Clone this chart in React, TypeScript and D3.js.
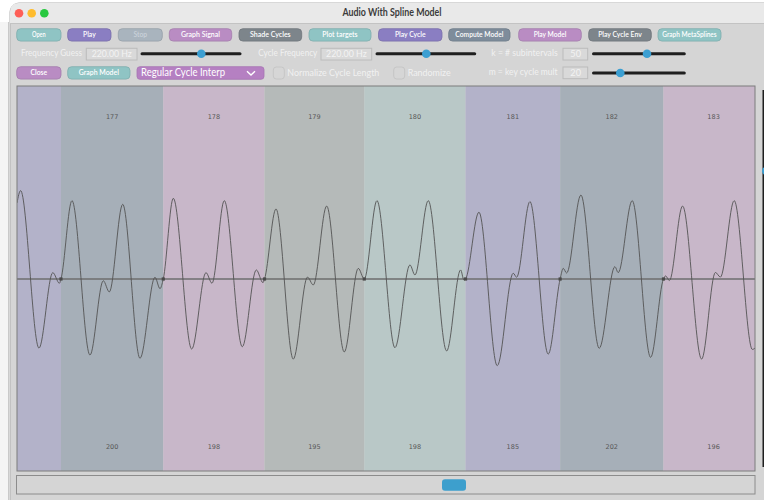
import React from 'react';
import * as d3 from 'd3';

// ---------- data ----------
const cycleIds = [176, 177, 178, 179, 180, 181, 182, 183];
const cycleStarts = [86, 286, 484, 679, 877, 1062, 1264]; // sample index where cycles 177..183 begin
const cycleLengths = [200, 198, 195, 198, 185, 202, 196]; // lengths (samples) shown at bottom
const sampleDomain = [0, 1443];
const waveT = [
  0, 7, 43, 70, 83, 86,
  107.5, 142.7, 168.7, 180.5, 206.7, 240.5, 269.8, 279.6, 286,
  305.6, 341.6, 369.5, 381.3, 405.3, 440.5, 467.9, 481, 484,
  506.4, 540.2, 568, 579.3, 605.5, 639.9, 667.3, 679,
  703.8, 739, 768.3, 778.1, 804.1, 840.1, 867.4, 873.9, 877,
  903.2, 939, 970.3, 976.9, 1002.9, 1038.7, 1062,
  1068, 1074.7, 1102.6, 1138.4, 1169.1, 1175.5, 1202.9, 1238.9, 1264,
  1268.2, 1275.6, 1301.4, 1338.6, 1365.6, 1375.4, 1402.3, 1437.9, 1443,
];
const waveA = [
  0.394, 0.458, -0.358, 0.033, -0.022, 0,
  0.406, -0.394, -0.009, -0.067, 0.387, -0.411, 0.009, -0.05, 0,
  0.418, -0.363, 0.033, -0.022, 0.406, -0.351, 0.047, -0.019, 0,
  0.363, -0.415, 0.01, -0.031, 0.378, -0.378, 0.055, 0,
  0.406, -0.356, 0.073, 0.021, 0.406, -0.373, 0.047, -0.005, 0,
  0.346, -0.449, 0.03, 0.009, 0.401, -0.389, 0,
  0.055, 0.031, 0.435, -0.359, 0.064, 0.033, 0.406, -0.406, 0,
  0.016, -0.008, 0.378, -0.415, 0.034, 0.01, 0.406, -0.365, -0.358,
];
const cycleColors = ['#b9c8c7', '#b3b2c9', '#a6afb8', '#c8b7c9', '#b5bab9']; // by id % 5

// ---------- UI chrome ----------
const TEAL = '#8fc4c4', PURPLE = '#8a7ec2', DIS = '#a9b4be', PINK = '#b98cc3', DGRAY = '#7d858b', SLATE = '#7e8c9b';
const row1 = [
  { t: 'Open', x0: 16.7, x1: 61, c: TEAL, w: 13.7 },
  { t: 'Play', x0: 67.7, x1: 111, c: PURPLE, w: 12.7 },
  { t: 'Stop', x0: 118.3, x1: 162.3, c: DIS, w: 13.7, dis: true },
  { t: 'Graph Signal', x0: 169.3, x1: 231.7, c: PINK, w: 39 },
  { t: 'Shade Cycles', x0: 239, x1: 301.7, c: DGRAY, w: 40.7 },
  { t: 'Plot targets', x0: 309, x1: 371, c: TEAL, w: 35.3 },
  { t: 'Play Cycle', x0: 378.5, x1: 442, c: PURPLE, w: 30.7 },
  { t: 'Compute Model', x0: 448.7, x1: 510, c: SLATE, w: 48 },
  { t: 'Play Model', x0: 518.7, x1: 581.3, c: PINK, w: 32.7 },
  { t: 'Play Cycle Env', x0: 588.7, x1: 651.3, c: DGRAY, w: 43.7 },
  { t: 'Graph MetaSplines', x0: 658, x1: 721, c: TEAL, w: 54.3 },
];
const row3 = [
  { t: 'Close', x0: 16.7, x1: 61, c: PINK, w: 16.7 },
  { t: 'Graph Model', x0: 67.7, x1: 130, c: TEAL, w: 40 },
];

const FONT = 'Lato, "Noto Sans", sans-serif';

function Button({ b, y0 }: any) {
  const h = 12.4;
  return (
    <g>
      <rect x={b.x0} y={y0} width={b.x1 - b.x0} height={h} rx={4} fill={b.c}
        stroke={d3.color(b.c)!.darker(0.35).toString()} strokeWidth={0.8} />
      <text x={(b.x0 + b.x1) / 2} y={y0 + h / 2 + 0.5} textAnchor="middle" dominantBaseline="middle"
        fontSize={8} fontWeight={600} fill={b.dis ? '#c9d2da' : '#ffffff'} fontFamily={FONT}
        textLength={b.w} lengthAdjust="spacingAndGlyphs">{b.t}</text>
    </g>
  );
}

function Label({ x, y, t, w }: any) {
  return (
    <text x={x} y={y} dominantBaseline="middle" fontSize={8.8} fill="#f1f1f1" fontFamily={FONT}
      textLength={w} lengthAdjust="spacingAndGlyphs">{t}</text>
  );
}

function Field({ x0, x1, y0, y1, t, tx, tw }: any) {
  return (
    <g>
      <rect x={x0} y={y0} width={x1 - x0} height={y1 - y0} fill="#d9d9d9" stroke="#bcbcbc" strokeWidth={1} />
      <text x={tx} y={(y0 + y1) / 2 + 0.5} dominantBaseline="middle" fontSize={10} fill="#f3f3f3"
        fontFamily={FONT} textLength={tw} lengthAdjust="spacingAndGlyphs">{t}</text>
    </g>
  );
}

function Slider({ x0, x1, y, tx }: any) {
  return (
    <g>
      <line x1={x0} x2={x1} y1={y} y2={y} stroke="#1f1f1f" strokeWidth={3} strokeLinecap="round" />
      <circle cx={tx} cy={y} r={4.3} fill="#3c9fd2" />
    </g>
  );
}

function Check({ x, y, t, w }: any) {
  return (
    <g>
      <rect x={x} y={y} width={11} height={12} rx={3} fill="#d6d6d6" stroke="#c6c6c6" strokeWidth={1} />
      <text x={x + 14} y={y + 6.5} dominantBaseline="middle" fontSize={9.5} fill="#f1f1f1"
        fontFamily={FONT} textLength={w} lengthAdjust="spacingAndGlyphs">{t}</text>
    </g>
  );
}

export default function App() {
  const W = 764, H = 500;
  const PL = 17, PR = 755, PT = 86, PB = 471;
  const x = d3.scaleLinear().domain(sampleDomain).range([PL, PR]);
  const y = d3.scaleLinear().domain([-1, 1]).range([472, 86]);

  const edges = [sampleDomain[0], ...cycleStarts, sampleDomain[1]];
  const bands = cycleIds.map((id, i) => ({ id, s0: edges[i], s1: edges[i + 1] }));
  const labels = cycleStarts.map((s, i) => ({ id: cycleIds[i + 1], c: s + cycleLengths[i] / 2, len: cycleLengths[i] }));
  const pts = waveT.map((t, i) => [t, waveA[i]] as [number, number]);
  const line = d3.line<[number, number]>().x(d => x(d[0])).y(d => y(d[1])).curve(d3.curveMonotoneX);

  return (
    <svg width={W} height={H} style={{ position: 'fixed', left: 0, top: 0 }} xmlns="http://www.w3.org/2000/svg">
      <defs>
        <clipPath id="plotClip"><rect x={PL} y={PT} width={PR - PL} height={PB - PT} /></clipPath>
      </defs>
      <rect x={0} y={0} width={W} height={H} fill="#ffffff" />
      {/* back window strip */}
      <rect x={0} y={22} width={9} height={H - 22} fill="#f4f4f4" />
      <line x1={8.5} x2={8.5} y1={22} y2={H} stroke="#c9c9c9" />
      {/* window */}
      <rect x={10} y={3} width={W + 10} height={H + 10} rx={9} fill="#d5d5d5" stroke="#b0b0b0" strokeWidth={1} />
      <path d={`M10,23 L10,12 Q10,3 19,3 L${W + 20},3 L${W + 20},23 Z`} fill="#e9e9e9" />
      <line x1={10} x2={W} y1={23.5} y2={23.5} stroke="#c3c3c3" />
      <circle cx={19} cy={13.3} r={4.3} fill="#fe5f57" />
      <circle cx={31.7} cy={13.3} r={4.3} fill="#febc2e" />
      <circle cx={44.3} cy={13.3} r={4.3} fill="#28c840" />
      <text x={392} y={13.5} textAnchor="middle" dominantBaseline="middle" fontSize={10.5} fontWeight={700}
        fill="#3b3b3b" fontFamily={FONT} textLength={99} lengthAdjust="spacingAndGlyphs">Audio With Spline Model</text>

      {/* controls */}
      {row1.map(b => <Button key={b.t} b={b} y0={28.7} />)}
      {row3.map(b => <Button key={b.t} b={b} y0={66.7} />)}

      <Label x={21} y={54} t="Frequency Guess" w={61} />
      <Field x0={86.3} x1={137} y0={48.3} y1={60} t="220.00 Hz" tx={91.7} tw={40} />
      <Slider x0={142} x1={240} y={53.7} tx={201.3} />
      <Label x={258.3} y={54} t="Cycle Frequency" w={59} />
      <Field x0={321} x1={371.7} y0={48.3} y1={60} t="220.00 Hz" tx={326} tw={40.7} />
      <Slider x0={377} x1={474.7} y={53.7} tx={426.3} />
      <Label x={491.3} y={54} t="k = # subintervals" w={66.4} />
      <Field x0={563} x1={587.7} y0={48.3} y1={60} t="50" tx={570.3} tw={10.7} />
      <Slider x0={593.5} x1={684.3} y={53.7} tx={647} />

      <rect x={137} y={66.7} width={127} height={12.6} rx={3} fill="#b580c2" stroke="#a673b3" strokeWidth={0.8} />
      <text x={141} y={73.5} dominantBaseline="middle" fontSize={10.5} fill="#ffffff" fontFamily={FONT}
        textLength={84} lengthAdjust="spacingAndGlyphs">Regular Cycle Interp</text>
      <polyline points="247,71.3 251,75 255,71.3" fill="none" stroke="#ffffff" strokeWidth={1.4} />

      <Check x={273.3} y={67} t="Normalize Cycle Length" w={92} />
      <Check x={393.7} y={67} t="Randomize" w={43} />
      <Label x={488.7} y={73} t="m = key cycle mult" w={69} />
      <Field x0={563} x1={587.7} y0={67} y1={78.7} t="20" tx={570.3} tw={10.7} />
      <Slider x0={593.5} x1={684.3} y={73} tx={620.3} />

      {/* plot */}
      <g clipPath="url(#plotClip)">
        {bands.map(b => (
          <rect key={b.id} x={x(b.s0)} y={PT} width={x(b.s1) - x(b.s0)} height={PB - PT}
            fill={cycleColors[b.id % 5]} />
        ))}
        {labels.map(l => (
          <g key={l.id}>
            <text x={x(l.c)} y={117.5} textAnchor="middle" dominantBaseline="middle" fontSize={6.5}
              fill="#575757" fontFamily='"DejaVu Sans", sans-serif'>{l.id}</text>
            <text x={x(l.c)} y={447.5} textAnchor="middle" dominantBaseline="middle" fontSize={6.5}
              fill="#575757" fontFamily='"DejaVu Sans", sans-serif'>{l.len}</text>
          </g>
        ))}
        <line x1={PL} x2={PR} y1={y(0)} y2={y(0)} stroke="#6e6e6e" strokeWidth={1.3} />
        <path d={line(pts) || ''} fill="none" stroke="#545454" strokeWidth={0.9} />
        {cycleStarts.map(s => (
          <rect key={s} x={x(s) - 1.6} y={y(0) - 1.6} width={3.2} height={3.2} fill="#4a4a4a" />
        ))}
      </g>
      <rect x={PL} y={PT} width={PR - PL} height={PB - PT} fill="none" stroke="#7c7c7c" strokeWidth={1} />

      {/* right-edge slider of neighbouring view */}
      <line x1={763.5} x2={763.5} y1={90} y2={467} stroke="#1f1f1f" strokeWidth={2} />
      <circle cx={766} cy={171} r={4} fill="#3c9fd2" />

      {/* scrollbar */}
      <rect x={16.5} y={475.5} width={738.5} height={18.5} fill="#d5d5d5" stroke="#8c8c8c" strokeWidth={1} />
      <rect x={442} y={479.3} width={24} height={11.4} rx={3} fill="#3d9fcd" />
    </svg>
  );
}
